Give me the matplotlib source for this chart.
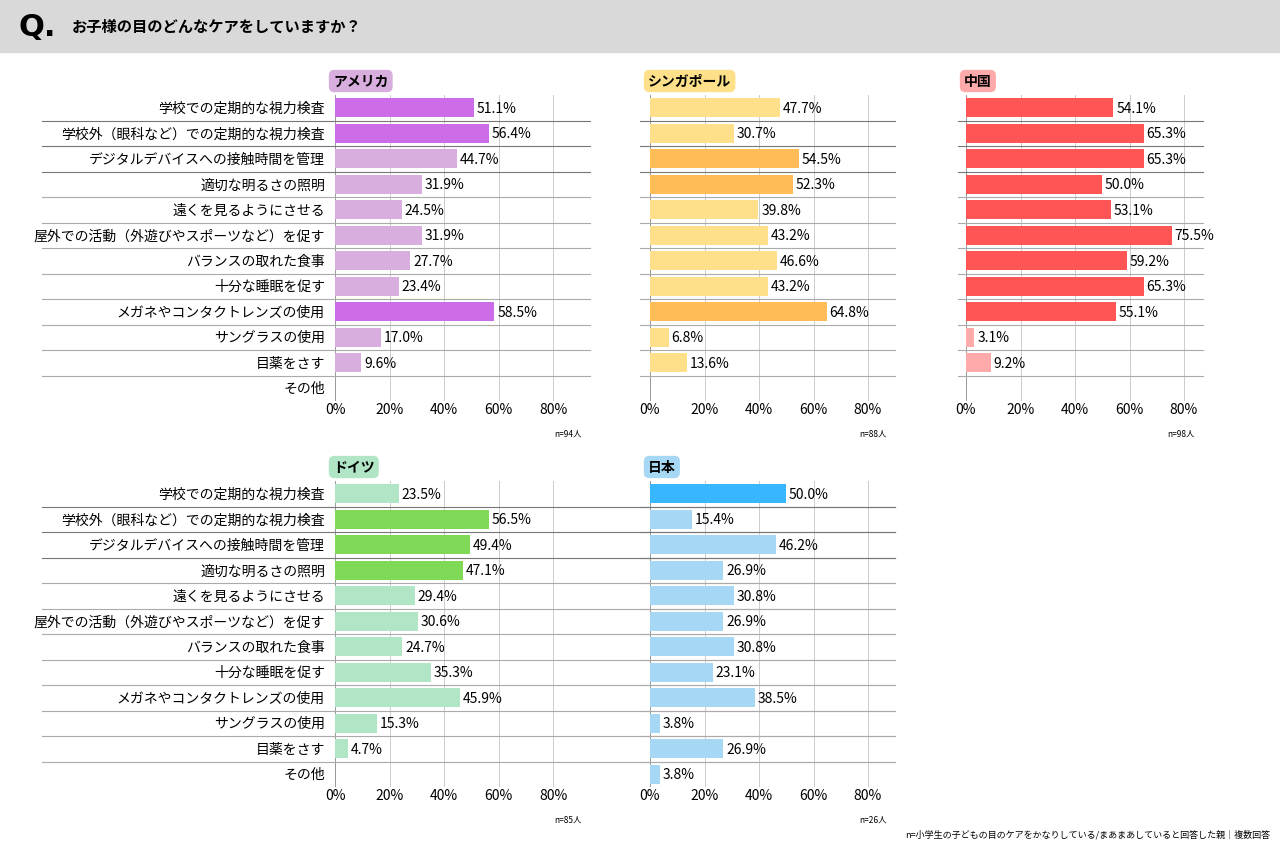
import matplotlib
matplotlib.use("Agg")
import matplotlib.pyplot as plt
from matplotlib.patches import Rectangle

plt.rcParams['font.family'] = ['Noto Sans CJK JP', 'DejaVu Sans']

categories = ["学校での定期的な視力検査", "学校外（眼科など）での定期的な視力検査", "デジタルデバイスへの接触時間を管理",
              "適切な明るさの照明", "遠くを見るようにさせる", "屋外での活動（外遊びやスポーツなど）を促す",
              "バランスの取れた食事", "十分な睡眠を促す", "メガネやコンタクトレンズの使用",
              "サングラスの使用", "目薬をさす", "その他"]
usa = [51.1, 56.4, 44.7, 31.9, 24.5, 31.9, 27.7, 23.4, 58.5, 17.0, 9.6, None]
singapore = [47.7, 30.7, 54.5, 52.3, 39.8, 43.2, 46.6, 43.2, 64.8, 6.8, 13.6, None]
china = [54.1, 65.3, 65.3, 50.0, 53.1, 75.5, 59.2, 65.3, 55.1, 3.1, 9.2, None]
germany = [23.5, 56.5, 49.4, 47.1, 29.4, 30.6, 24.7, 35.3, 45.9, 15.3, 4.7, None]
japan = [50.0, 15.4, 46.2, 26.9, 30.8, 26.9, 30.8, 23.1, 38.5, 3.8, 26.9, 3.8]
ticks = [0, 20, 40, 60, 80]

W, H = 1280, 853
fig = plt.figure(figsize=(12.8, 8.53), dpi=100)
fig.patch.set_facecolor('white')

def fx(px): return px / W
def fy(py): return 1 - py / H

# header
fig.add_artist(Rectangle((0, fy(53)), 1, 53 / H, transform=fig.transFigure, color='#d9d9d9', zorder=0))
fig.text(fx(18), fy(27), "Q.", fontsize=22, fontweight='bold', va='center', ha='left', family='DejaVu Sans')
fig.text(fx(72), fy(27), "お子様の目のどんなケアをしていますか？", fontsize=11, fontweight='bold', va='center')

panels = [
    ("アメリカ", usa, 335, 590, 96, "#CC6CE6", "#D7AEDD", {0, 1, 8}, "#D7AEDD", "n=94人", 42, 590),
    ("シンガポール", singapore, 650, 895, 96, "#FFBC57", "#FFE08A", {2, 3, 8}, "#FFE08A", "n=88人", 640, 895),
    ("中国", china, 966, 1203, 96, "#FF5555", "#FFAAAA", set(range(9)), "#FFAAAA", "n=98人", 958, 1203),
    ("ドイツ", germany, 335, 590, 482, "#7ED957", "#B0E5C5", {1, 2, 3}, "#B0E5C5", "n=85人", 42, 895),
    ("日本", japan, 650, 895, 482, "#38B6FF", "#A6D8F5", {0}, "#A6D8F5", "n=26人", 640, 895),
]
row_h = 25.5
n = len(categories)
for name, vals, x0, x1, ytop, hi, lo, hiset, badge, ntext, l0, l1 in panels:
    scale = 2.725
    ax = fig.add_axes([fx(x0), fy(ytop + n * row_h), (x1 - x0) / W, n * row_h / H])
    ax.set_xlim(0, (x1 - x0) / scale)
    ax.set_ylim(n - 0.5, -0.5)
    for s in ax.spines.values():
        s.set_visible(False)
    ax.set_yticks([])
    ax.set_xticks(ticks)
    ax.set_xticklabels([f"{t}%" for t in ticks], fontsize=10)
    ax.tick_params(axis='x', length=0, pad=1)
    for t in ticks:
        ax.axvline(t, color='#cccccc' if t else '#999999', lw=0.7, zorder=0)
    for i, v in enumerate(vals):
        if v is None:
            continue
        ax.barh(i, v, height=0.75, color=hi if i in hiset else lo, zorder=2)
        ax.text(v + 1, i, f"{v:.1f}%", va='center', ha='left', fontsize=10, zorder=3)
    for i in range(n - 1):
        yy = ytop + (i + 1) * row_h
        fig.add_artist(plt.Line2D([fx(l0), fx(l1)], [fy(yy), fy(yy)], transform=fig.transFigure,
                                  color='#777777' if i < 3 else '#aaaaaa', lw=0.8))
    if x0 == 335:
        for i, c in enumerate(categories):
            fig.text(fx(325), fy(ytop + (i + 0.5) * row_h), c, ha='right', va='center', fontsize=10)
    fig.text(fx(x0 - 2), fy(ytop - 14), name, ha='left', va='center', fontsize=10, fontweight='bold',
             bbox=dict(boxstyle='round,pad=0.3,rounding_size=0.4', fc=badge, ec='none'))
    fig.text(fx(x1 - 8), fy(ytop + n * row_h + 32), ntext, ha='right', va='center', fontsize=6)

fig.text(fx(1270), fy(835), "n=小学生の子どもの目のケアをかなりしている/まあまあしていると回答した親｜複数回答",
         ha='right', va='center', fontsize=6.5)
fig.savefig("out.png", dpi=100)
